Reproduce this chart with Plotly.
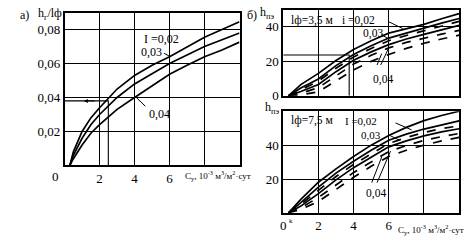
import plotly.graph_objects as go

# ---------- data ----------
# Panel a
xa = [0.3, 0.5, 1, 1.5, 2, 3, 4, 5, 6, 7, 8, 9, 10]
a_002 = [0, 0.008, 0.020, 0.028, 0.034, 0.045, 0.053, 0.059, 0.064, 0.070, 0.0755, 0.080, 0.0846]
a_003 = [0, 0.006, 0.016, 0.024, 0.030, 0.040, 0.048, 0.054, 0.060, 0.065, 0.070, 0.074, 0.078]
a_004 = [0, 0.004, 0.012, 0.019, 0.024, 0.033, 0.040, 0.047, 0.0537, 0.059, 0.064, 0.068, 0.0726]
a_ref_x = 2.5
a_ref_y = 0.038

# Panel b (top, lф = 3.5 м)
xb = [0.3, 1, 2, 3, 4, 5, 6, 7, 8, 9, 10]
b1_s = [[0, 6.5, 13, 20.5, 26.9, 32, 36.4, 39, 41.5, 44.7, 47.7],
        [0, 4.5, 9.8, 17.5, 24, 29, 33.5, 36.5, 39.3, 42.2, 44.9],
        [0, 2.5, 6.6, 14, 20.6, 25.5, 29.7, 33, 35.7, 38.3, 40.9]]
b1_d = [[0, 3.5, 8.5, 16, 22.5, 27.5, 32, 35, 37.8, 40.5, 43.2],
        [0, 1.5, 4.7, 11.5, 18.4, 23.5, 27.8, 31, 33.5, 35.8, 38],
        [0, 0.5, 2.3, 8.5, 15, 20, 24, 27.5, 30.5, 33, 35.2]]
b1_ref_x = 3.75
b1_ref_y = 23.7

# Panel b (bottom, lф = 7.5 м)
b2_s = [[0, 8, 18.1, 26, 33.3, 40, 45.7, 50.5, 54.5, 57.5, 60],
        [0, 6, 15.2, 23.5, 30.5, 37, 42.9, 46.5, 49.5, 52, 54.3],
        [0, 4, 11.4, 19.5, 26.7, 33, 39, 42.5, 45.5, 47.8, 49.7]]
b2_d = [[0, 5, 13.3, 21.5, 28.6, 35, 41, 44.5, 47.5, 49.8, 51.4],
        [0, 3, 9.1, 16.5, 23.8, 30, 36.2, 39.8, 42.8, 45, 46.9],
        [0, 2, 6.7, 14, 21, 27.5, 33.3, 37, 40, 42.5, 44.6]]

xticks = [0, 2, 4, 6, 8, 10]
xticktext = ["0", "2", "4", "6", "", ""]
a_yticks = [0.02, 0.04, 0.06, 0.08]
a_yticktext = ["0,02", "0,04", "0,06", "0,08"]

FONT = "Liberation Serif"
W, H = 476, 247

def px(x):
    return x / W

def py(y):
    return 1 - y / H

fig = go.Figure()
line = dict(color="black", width=1.7)
dline = dict(color="black", width=1.7, dash="dash")

# panel a
for ys in (a_002, a_003, a_004):
    fig.add_trace(go.Scatter(x=xa, y=ys, mode="lines", line=line, xaxis="x", yaxis="y", showlegend=False))
fig.add_trace(go.Scatter(x=[0, a_ref_x, a_ref_x], y=[a_ref_y, a_ref_y, 0], mode="lines",
                         line=dict(color="black", width=1.1), xaxis="x", yaxis="y", showlegend=False))

# panel b top
for ys in b1_s:
    fig.add_trace(go.Scatter(x=xb, y=ys, mode="lines", line=line, xaxis="x2", yaxis="y2", showlegend=False))
for ys in b1_d:
    fig.add_trace(go.Scatter(x=xb, y=ys, mode="lines", line=dline, xaxis="x2", yaxis="y2", showlegend=False))
fig.add_trace(go.Scatter(x=[0, b1_ref_x, b1_ref_x], y=[b1_ref_y, b1_ref_y, 0], mode="lines",
                         line=dict(color="black", width=1.1), xaxis="x2", yaxis="y2", showlegend=False))

# panel b bottom
for ys in b2_s:
    fig.add_trace(go.Scatter(x=xb, y=ys, mode="lines", line=line, xaxis="x3", yaxis="y3", showlegend=False))
for ys in b2_d:
    fig.add_trace(go.Scatter(x=xb, y=ys, mode="lines", line=dline, xaxis="x3", yaxis="y3", showlegend=False))

axis_common = dict(showline=True, mirror=True, linecolor="black", linewidth=1.6,
                   showgrid=True, gridcolor="black", gridwidth=1.1, zeroline=False,
                   ticks="", tickfont=dict(family=FONT, size=13, color="black"))

fig.update_layout(
    width=W, height=H, margin=dict(l=0, r=0, t=0, b=0),
    paper_bgcolor="white", plot_bgcolor="white",
    font=dict(family=FONT, color="black"),
    xaxis=dict(domain=[px(62), px(238)], range=[0, 10], anchor="y",
               tickvals=xticks, ticktext=["", "2", "4", "6", "", ""], **axis_common),
    yaxis=dict(domain=[py(171), py(13)], range=[0, 0.09], anchor="x",
               tickvals=a_yticks, ticktext=a_yticktext, **axis_common),
    xaxis2=dict(domain=[px(282), px(459)], range=[0, 10], anchor="y2",
                tickvals=xticks, showticklabels=False, **axis_common),
    yaxis2=dict(domain=[py(99), py(10)], range=[0, 50], anchor="x2",
                tickvals=[0, 20, 40], ticktext=["0", "20", "40"], **axis_common),
    xaxis3=dict(domain=[px(282), px(459)], range=[0, 10], anchor="y3",
                tickvals=xticks, ticktext=xticktext, **axis_common),
    yaxis3=dict(domain=[py(220), py(115)], range=[0, 60], anchor="x3",
                tickvals=[20, 40], ticktext=["20", "40"], **axis_common),
)

ann = []
def txt(x, y, t, size=12, xref="paper", yref="paper", xanchor="center"):
    ann.append(dict(x=x, y=y, xref=xref, yref=yref, text=t, showarrow=False,
                    xanchor=xanchor, yanchor="middle",
                    font=dict(family=FONT, size=size, color="black")))

def lead(x, y, ax, ay, xr, yr):
    ann.append(dict(x=x, y=y, ax=ax, ay=ay, xref=xr, yref=yr, axref=xr, ayref=yr,
                    text="", showarrow=True, arrowhead=0, arrowwidth=1, arrowcolor="black"))

# panel a labels
txt(px(15), py(15), "а)", 12, xanchor="left")
txt(px(33), py(14), "h<sub>г</sub>/lф", 12, xanchor="left")
txt(px(53), py(182), "0", 13)
txt(px(181), py(181), "C<sub>y</sub>, 10<sup>-3</sup> м<sup>3</sup>/м<sup>2</sup>·сут", 9, xanchor="left")
txt(5.55, 0.0745, "I =0,02", 12, "x", "y")
txt(4.95, 0.0669, "0,03", 12, "x", "y")
txt(5.4, 0.030, "0,04", 12, "x", "y")
lead(6.05, 0.064, 5.6, 0.0665, "x", "y")
lead(4.1, 0.040, 4.7, 0.034, "x", "y")
ann.append(dict(x=1.1, y=a_ref_y, ax=1.8, ay=a_ref_y, xref="x", yref="y", axref="x", ayref="y",
                text="", showarrow=True, arrowhead=2, arrowsize=0.8, arrowwidth=1, arrowcolor="black"))

# panel b top labels
txt(px(244), py(15), "б)", 12, xanchor="left")
txt(px(257), py(13), "h<sub>пэ</sub>", 12, xanchor="left")
txt(0.3, 43.7, "lф=3,5 м", 11.5, "x2", "y2", xanchor="left")
txt(3.2, 43.7, "i =0,02", 11.5, "x2", "y2", xanchor="left")
txt(4.45, 36.0, "0,03", 11.5, "x2", "y2", xanchor="left")
txt(5.0, 9.5, "0,04", 11.5, "x2", "y2", xanchor="left")
lead(6.8, 39.0, 5.9, 43.5, "x2", "y2")
lead(6.0, 33.0, 5.5, 36.0, "x2", "y2")
lead(6.0, 27.8, 5.5, 17.0, "x2", "y2")
lead(5.6, 24.5, 5.3, 17.0, "x2", "y2")

# panel b bottom labels
txt(px(262), py(112), "h<sub>пэ</sub>", 12, xanchor="left")
txt(0.3, 54.5, "lф=7,5 м", 11.5, "x3", "y3", xanchor="left")
txt(3.4, 54.5, "I =0,02", 11, "x3", "y3", xanchor="left")
txt(4.3, 46.0, "0,03", 11, "x3", "y3", xanchor="left")
txt(4.6, 11.5, "0,04", 11.5, "x3", "y3", xanchor="left")
lead(7.3, 49.0, 6.3, 53.5, "x3", "y3")
lead(6.6, 43.0, 6.0, 46.0, "x3", "y3")
lead(6.1, 36.5, 5.3, 17.0, "x3", "y3")
lead(5.6, 33.0, 5.0, 17.0, "x3", "y3")
txt(px(290), py(228), "k", 7)
txt(px(395), py(237), "C<sub>y</sub>, 10<sup>-3</sup> м<sup>3</sup>/м<sup>2</sup>·сут", 9, xanchor="left")

fig.update_layout(annotations=ann)
fig.write_html("out.html")
